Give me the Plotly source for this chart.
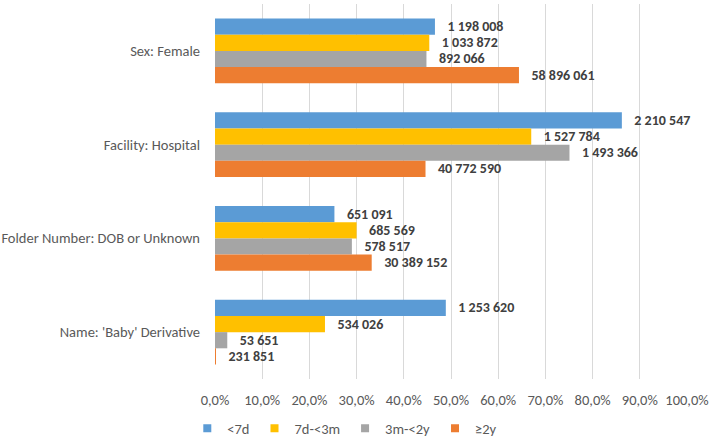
import plotly.graph_objects as go

# categories top to bottom, percentages per age group and the counts shown as labels
categories = ["Sex: Female", "Facility: Hospital", "Folder Number: DOB or Unknown", "Name: 'Baby' Derivative"]
groups = ["<7d", "7d-<3m", "3m-<2y", "≥2y"]
colors = ["#5B9BD5", "#FFC000", "#A5A5A5", "#ED7D31"]

pct_lt7d = [46.6, 86.2, 25.3, 48.9]
pct_7d_3m = [45.4, 67.0, 30.0, 23.3]
pct_3m_2y = [44.8, 75.1, 29.0, 2.6]
pct_ge2y = [64.4, 44.6, 33.2, 0.2]

n_lt7d = [1198008, 2210547, 651091, 1253620]
n_7d_3m = [1033872, 1527784, 685569, 534026]
n_3m_2y = [892066, 1493366, 578517, 53651]
n_ge2y = [58896061, 40772590, 30389152, 231851]

pcts = [pct_lt7d, pct_7d_3m, pct_3m_2y, pct_ge2y]
counts = [n_lt7d, n_7d_3m, n_3m_2y, n_ge2y]

FONT = "Carlito, Lato, 'Open Sans', sans-serif"

fig = go.Figure()
for name, col, vals, ns in zip(groups, colors, pcts, counts):
    labels = ["\u00a0\u00a0\u00a0" + f"{n:,}".replace(",", " ") for n in ns]
    fig.add_trace(
        go.Bar(
            x=vals,
            y=categories,
            orientation="h",
            name=name,
            marker=dict(color=col, line=dict(width=0)),
            text=labels,
            textposition="outside",
            constraintext="none",
            cliponaxis=False,
            textfont=dict(family=FONT, size=14, color="#404040", weight="bold"),
            showlegend=False,
            hoverinfo="skip",
        )
    )
    # small square legend markers like the original
    fig.add_trace(
        go.Scatter(
            x=[None],
            y=[None],
            mode="markers",
            name=name,
            marker=dict(symbol="square", size=8, color=col),
        )
    )

fig.update_layout(
    width=712,
    height=438,
    margin=dict(l=215, r=25, t=4, b=59),
    paper_bgcolor="white",
    plot_bgcolor="white",
    separators=", ",
    barmode="group",
    bargap=0.31,
    bargroupgap=0,
    font=dict(family=FONT, size=14.5, color="#595959"),
    legend=dict(
        orientation="h",
        x=0.275,
        xanchor="center",
        yref="container",
        y=0.022,
        yanchor="middle",
        font=dict(size=14.5, color="#595959"),
        itemwidth=30,
    ),
    xaxis=dict(
        range=[0, 100],
        dtick=10,
        tickformat=".1f",
        ticksuffix="%",
        showgrid=True,
        gridcolor="#D9D9D9",
        gridwidth=1,
        zeroline=False,
        showline=False,
        ticks="",
        ticklabelstandoff=10,
    ),
    yaxis=dict(
        autorange="reversed",
        showgrid=False,
        showline=False,
        ticks="",
        ticklabelstandoff=14,
        automargin=False,
    ),
)

# page body has a default 8px margin; drop it so the figure sits at the corner
fig.write_html(
    "out.html",
    config={"displayModeBar": False},
    post_script="document.body.style.margin='0';",
)
